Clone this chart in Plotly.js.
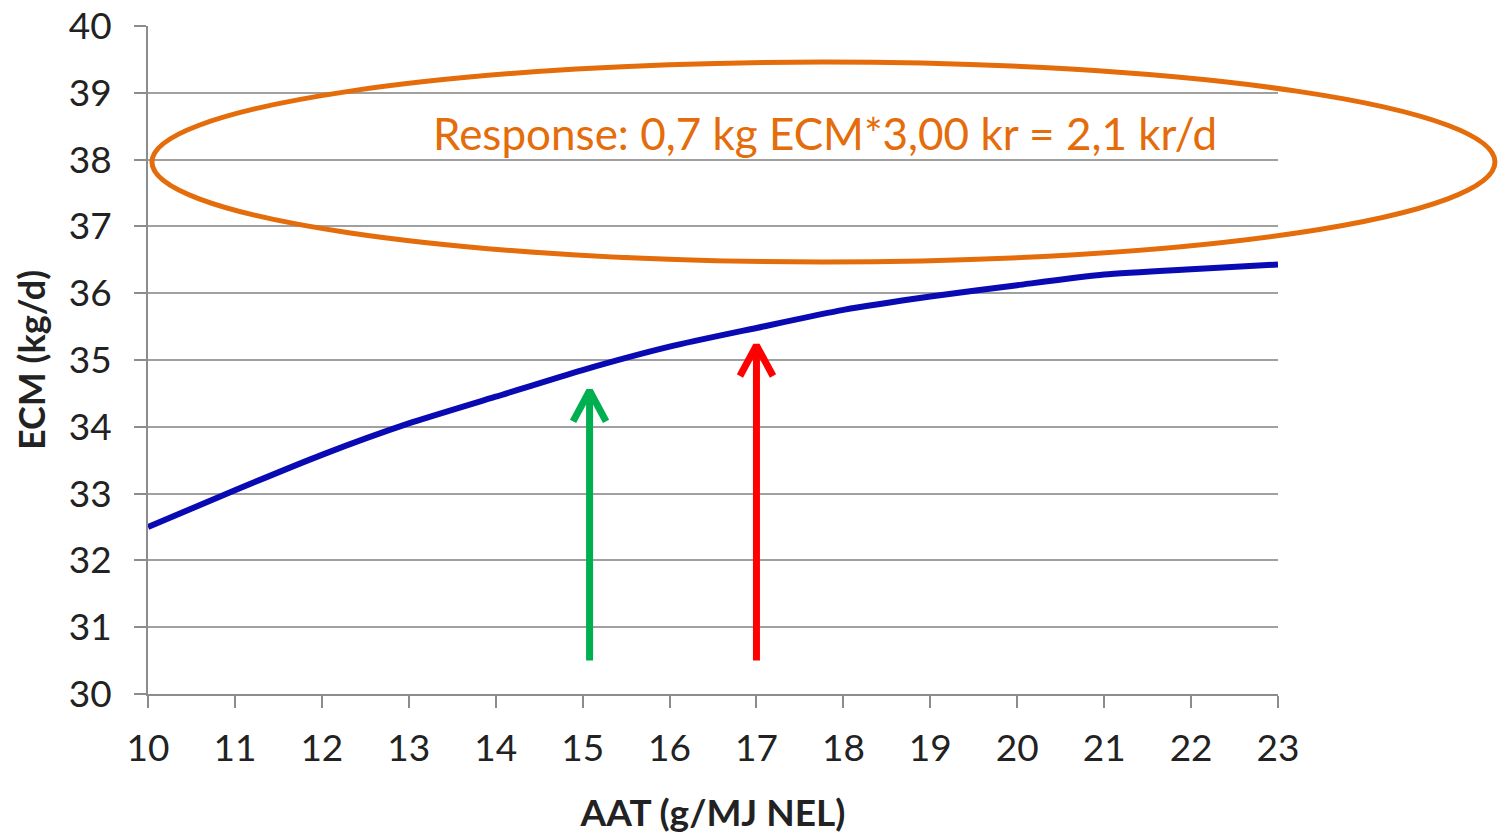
<!DOCTYPE html>
<html>
<head>
<meta charset="utf-8">
<script src="https://cdn.plot.ly/plotly-3.0.1.min.js"></script>
<style>
html,body{margin:0;padding:0;background:#fff;}
#chart{width:1499px;height:839px;}
</style>
</head>
<body>
<div id="chart"></div>
<script>
// Data
const aat = [10, 11, 12, 13, 14, 15, 16, 17, 18, 19, 20, 21, 22, 23];
const ecm = [32.5, 33.05, 33.58, 34.05, 34.45, 34.85, 35.2, 35.48, 35.75, 35.95, 36.12, 36.28, 36.36, 36.43];
const xTicks = [10, 11, 12, 13, 14, 15, 16, 17, 18, 19, 20, 21, 22, 23];
const yTicks = [30, 31, 32, 33, 34, 35, 36, 37, 38, 39, 40];
const arrowX = [15.08, 17.0];
const arrowTail = [30.5, 30.5];
const arrowTip = [34.54, 35.22];
const arrowColors = ['#00B050', '#FF0000'];
const responseText = 'Response: 0,7 kg ECM*3,00 kr = 2,1 kr/d';

const traces = [{
  x: aat, y: ecm, type: 'scatter', mode: 'lines',
  line: {color: '#0A0AB4', width: 6, shape: 'spline', smoothing: 0.6},
  hoverinfo: 'skip'
}];

const headDx = 0.19, headDy = 0.46;
arrowX.forEach((ax, i) => {
  traces.push({
    x: [ax, ax, null, ax - headDx, ax, ax + headDx],
    y: [arrowTail[i], arrowTip[i], null, arrowTip[i] - headDy, arrowTip[i], arrowTip[i] - headDy],
    type: 'scatter', mode: 'lines',
    line: {color: arrowColors[i], width: 7},
    hoverinfo: 'skip'
  });
});

const tickFont = {family: 'Lato, sans-serif', size: 37, color: '#222'};
const layout = {
  width: 1499, height: 839,
  margin: {l: 148, r: 221, t: 26, b: 145},
  paper_bgcolor: '#fff', plot_bgcolor: '#fff',
  showlegend: false, hovermode: false,
  xaxis: {
    range: [10, 23], tickvals: xTicks, ticktext: xTicks.map(String),
    showgrid: false, zeroline: false,
    showline: true, linecolor: '#8c8c8c', linewidth: 2,
    ticks: 'outside', ticklen: 12, tickwidth: 2, tickcolor: '#8c8c8c',
    tickfont: tickFont, ticklabelstandoff: 9,
    title: {text: 'AAT (g/MJ NEL)', font: {family: 'Lato, sans-serif', size: 37, color: '#222', weight: 'bold'}, standoff: 32}
  },
  yaxis: {
    range: [30, 40], tickvals: yTicks, ticktext: yTicks.map(String),
    showgrid: true, gridcolor: '#a0a0a0', gridwidth: 2, zeroline: false,
    showline: true, linecolor: '#8c8c8c', linewidth: 2,
    ticks: 'outside', ticklen: 12, tickwidth: 2, tickcolor: '#8c8c8c',
    tickfont: tickFont, ticklabelstandoff: 15,
    title: {text: 'ECM (kg/d)', font: {family: 'Lato, sans-serif', size: 36, color: '#222', weight: 'bold'}, standoff: 12}
  },
  shapes: [{
    type: 'circle', xref: 'paper', yref: 'paper',
    x0: 0.0035, x1: 1.192, y0: 0.6467, y1: 0.946,
    line: {color: '#E46C0A', width: 5}, fillcolor: 'rgba(0,0,0,0)'
  }],
  annotations: [{
    xref: 'paper', yref: 'paper', x: 0.599, y: 0.84,
    text: responseText, showarrow: false,
    font: {family: 'Lato, sans-serif', size: 44, color: '#E46C0A'},
    xanchor: 'center', yanchor: 'middle'
  }]
};

Plotly.newPlot('chart', traces, layout, {staticPlot: true, displayModeBar: false});
</script>
</body>
</html>
